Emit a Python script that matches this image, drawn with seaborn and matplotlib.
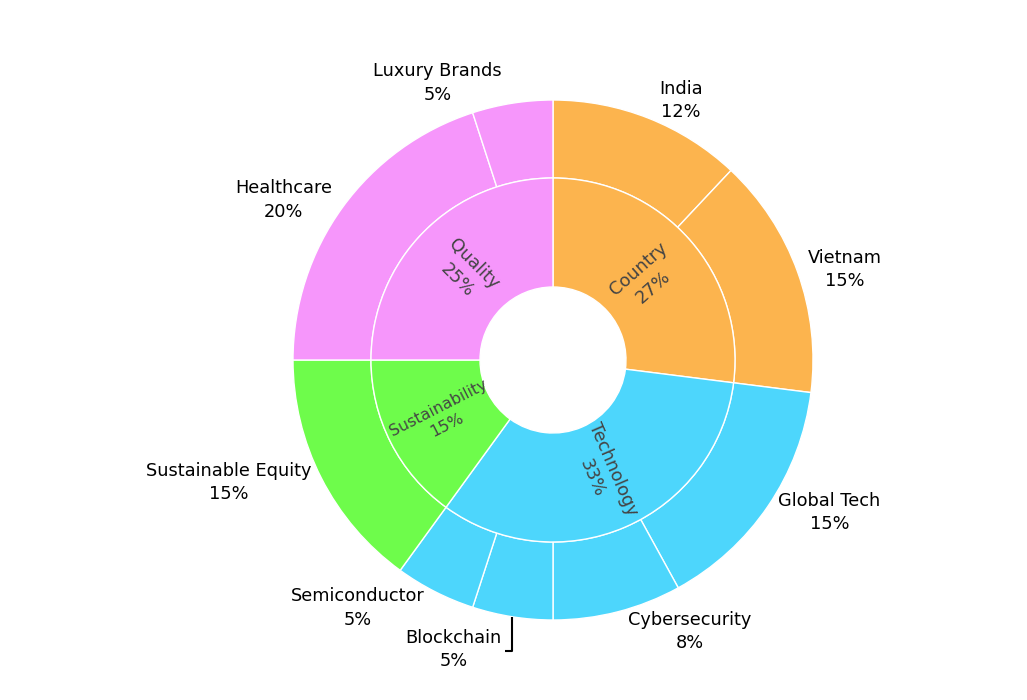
import numpy as np
import matplotlib
matplotlib.use("Agg")
import matplotlib.pyplot as plt
import seaborn as sns

sns.set_theme(style="white")
plt.rcParams['font.family'] = ['DejaVu Sans']

# ---------------- data ----------------
parents = ["Country", "Technology", "Sustainability", "Quality"]
parent_values = [27, 33, 15, 25]
children = ["India", "Vietnam", "Global Tech", "Cybersecurity", "Blockchain",
            "Semiconductor", "Sustainable Equity", "Healthcare", "Luxury Brands"]
child_values = [12, 15, 15, 8, 5, 5, 15, 20, 5]
child_parent = ["Country", "Country", "Technology", "Technology", "Technology",
                "Technology", "Sustainability", "Quality", "Quality"]
parent_colors = {"Country": "#FCB44E", "Technology": "#4DD6FC",
                 "Sustainability": "#6EFC4B", "Quality": "#F696FB"}

# ---------------- layout ----------------
W, H = 1027, 700
fig = plt.figure(figsize=(W / 100, H / 100), dpi=100)
ax = fig.add_axes([0, 0, 1, 1])
cx, cy = 553, H - 360
R_out, R_mid, R_hole = 260, 182, 73
FS = 12.8
LS = 1.38

total = sum(child_values)
ax.pie(child_values, colors=[parent_colors[p] for p in child_parent],
       radius=R_out, center=(cx, cy), startangle=90, counterclock=False,
       wedgeprops=dict(width=R_out - R_mid, edgecolor="white", linewidth=1))
ax.pie(parent_values, colors=[parent_colors[p] for p in parents],
       radius=R_mid, center=(cx, cy), startangle=90, counterclock=False,
       wedgeprops=dict(width=R_mid - R_hole, edgecolor="white", linewidth=1))
ax.set_xlim(0, W)
ax.set_ylim(0, H)
ax.set_aspect("auto")
ax.axis("off")

renderer = fig.canvas.get_renderer()


def mid_angles(vals):
    cum = np.cumsum([0] + list(vals))
    fr = (cum[:-1] + cum[1:]) / 2 / sum(vals)
    return np.deg2rad(90 - fr * 360)


# ---------------- inner labels ----------------
r_text = 124
for name, v, a in zip(parents, parent_values, mid_angles(parent_values)):
    x, y = cx + r_text * np.cos(a), cy + r_text * np.sin(a)
    rot = np.rad2deg(a)
    while rot > 90:
        rot -= 180
    while rot < -90:
        rot += 180
    t = ax.text(x, y, f"{name}\n{v / sum(parent_values) * 100:.0f}%",
                ha="center", va="center", rotation=0, rotation_mode="anchor",
                fontsize=FS, color="#444444", linespacing=LS)
    w = t.get_window_extent(renderer).width
    scale = min(1.0, (R_mid - R_hole - 2) / w)
    t.set_fontsize(FS * scale)
    t.set_rotation(rot)

# ---------------- outer labels ----------------
labels = []
for name, v, a in zip(children, child_values, mid_angles(child_values)):
    px, py = R_out * np.cos(a), R_out * np.sin(a)
    t = ax.text(cx + px, cy + py, f"{name}\n{v / total * 100:.0f}%",
                ha="center", va="center", fontsize=FS, color="black",
                linespacing=LS)
    bb = t.get_window_extent(renderer)
    w, h = bb.width, bb.height
    dx = w / 2 * np.sign(px)
    dy = h / 2 * np.sign(py)
    sx = dx + abs(dy) / 2 * np.sign(dx)
    sy = dy / (1 + px * px / (py * py))
    labels.append(dict(t=t, px=px, py=py, x=cx + px + sx, y=cy + py + sy,
                       w=w, h=h, moved=False))

# push overlapping labels away from the horizontal axis
for side in (-1, 1):
    for half in (-1, 1):
        grp = [L for L in labels if np.sign(L["px"]) == side and np.sign(L["py"]) == half]
        grp.sort(key=lambda L: abs(L["py"]))
        for i in range(1, len(grp)):
            prev, cur = grp[i - 1], grp[i]
            xo = abs(cur["x"] - prev["x"]) < (cur["w"] + prev["w"]) / 2
            yo = abs(cur["y"] - prev["y"]) < (cur["h"] + prev["h"]) / 2
            if xo and yo:
                need = (cur["h"] + prev["h"]) / 2 - abs(cur["y"] - prev["y"])
                cur["y"] += half * need
                cur["moved"] = True

for L in labels:
    L["t"].set_position((L["x"], L["y"]))
    if L["moved"]:
        x0, y0 = cx + L["px"], cy + L["py"]
        edge = L["x"] - np.sign(L["px"]) * (L["w"] / 2 + 3)
        ax.plot([x0, x0, edge], [y0, L["y"] - 2, L["y"] - 2], color="black",
                lw=1.5, solid_capstyle="butt")

fig.savefig("out.png", dpi=100, facecolor="white")
